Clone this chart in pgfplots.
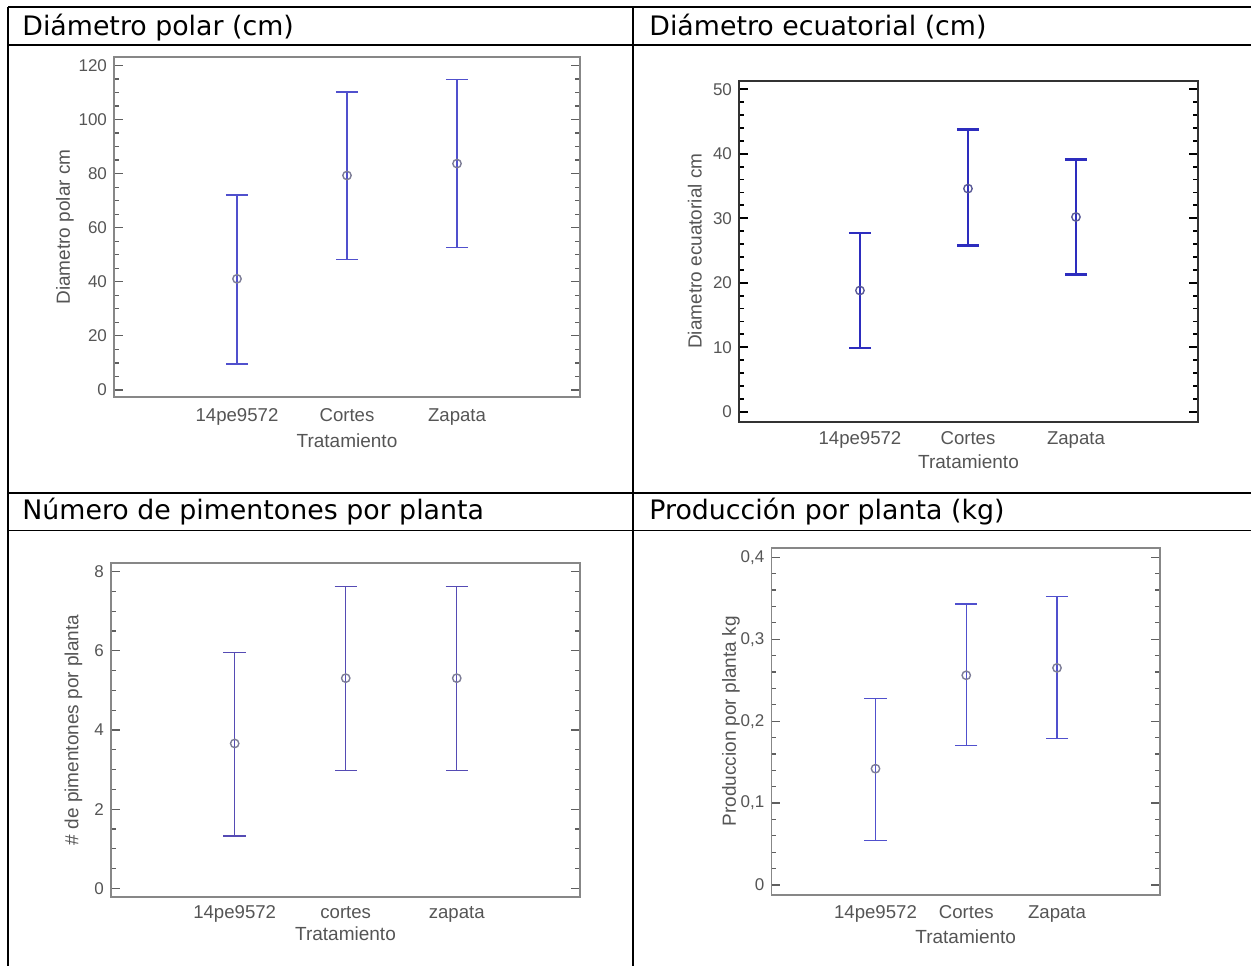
\documentclass[border=0pt]{standalone}
\usepackage{pgfplots}
\pgfplotsset{compat=1.18}
\usepackage{pgfplotstable}
\usepackage{fontspec}
\setmainfont{DejaVu Sans}
\newfontfamily\arial{Liberation Sans}
\definecolor{txt}{RGB}{85,85,85}
\definecolor{frm}{RGB}{135,135,135}
\definecolor{frmdk}{RGB}{50,50,50}
\definecolor{tk}{RGB}{95,95,95}
\definecolor{eb}{RGB}{80,80,205}
\definecolor{ebdk}{RGB}{45,45,190}
\definecolor{ebp}{RGB}{85,75,180}
\definecolor{mk}{RGB}{125,125,150}
\definecolor{mkdk}{RGB}{90,90,150}

\pgfplotstableread{
x y hi lo
1 41.1 72.1 9.6
2 79.3 110.2 48.3
3 83.7 114.8 52.8
}\polar
\pgfplotstableread{
x y hi lo
1 18.8 27.7 9.9
2 34.6 43.8 25.8
3 30.2 39.1 21.3
}\ecuat
\pgfplotstableread{
x y hi lo
1 3.66 5.96 1.32
2 5.31 7.63 2.97
3 5.31 7.63 2.97
}\pimen
\pgfplotstableread{
x y hi lo
1 0.142 0.228 0.054
2 0.256 0.343 0.170
3 0.265 0.352 0.179
}\prod

\pgfplotsset{
  chart/.style={
    scale only axis, anchor=south west,
    xtick={1,2,3},
    xtick style={draw=none},
    tick align=inside,
    major tick length=4.5pt, minor tick length=2.5pt,
    ytick style={draw=tk, line width=0.6pt},
    /pgf/number format/assume math mode=true,
    yticklabel style={font=\arial\fontsize{8.5}{10}\selectfont, text=txt},
    xticklabel style={font=\arial\fontsize{9.3}{11}\selectfont, text=txt, anchor=center, text height=6.7pt, text depth=1.9pt},
    label style={font=\arial\fontsize{9.5}{11}\selectfont, text=txt},
    xlabel={Tratamiento},
    axis line style={draw=frm, line width=0.9pt},
  },
  ebars/.style n args={3}{
    draw=none, mark=o, mark size=2.1pt,
    mark options={draw=#3, line width=0.7pt},
    error bars/.cd, y dir=both, y explicit,
    error bar style={draw=#1, line width=#2},
    error mark options={draw=#1, line width=#2, mark size=5.6pt, rotate=90},
  },
}

\begin{document}
\begin{tikzpicture}
\path[use as bounding box] (0,0) rectangle (625.5pt,-483pt);

% table lines
\draw[line width=1pt] (4pt,-3.5pt) -- (625.5pt,-3.5pt);
\draw[line width=1pt] (4pt,-3.5pt) -- (4pt,-483pt);
\draw[line width=1pt] (316.5pt,-3.5pt) -- (316.5pt,-483pt);
\draw[line width=0.7pt] (4pt,-22.4pt) -- (625.5pt,-22.4pt);
\draw[line width=1pt] (4pt,-246.6pt) -- (625.5pt,-246.6pt);
\draw[line width=0.7pt] (4pt,-265.3pt) -- (625.5pt,-265.3pt);

% headers
\begin{scope}[every node/.style={anchor=base west, inner sep=0pt, font=\fontsize{13.4}{16}\selectfont}]
\node at (11pt,-17.75pt) {Diámetro polar (cm)};
\node at (324.5pt,-17.75pt) {Diámetro ecuatorial (cm)};
\node at (11pt,-259.75pt) {Número de pimentones por planta};
\node at (324.5pt,-259.75pt) {Producción por planta (kg)};
\end{scope}

% chart 1
\begin{axis}[chart, at={(57pt,-198.5pt)}, width=233pt, height=170pt,
  xmin=-0.118, xmax=4.118, ymin=-2.6, ymax=123.1,
  ytick={0,20,...,120}, minor y tick num=3,
  xticklabels={14pe9572,Cortes,Zapata},
  xticklabel style={yshift=-9.85pt},
  xlabel style={at={(axis description cs:0.5,0)}, anchor=center, yshift=-21.85pt},
  ylabel={Diametro polar cm},
  ylabel style={at={(axis description cs:-0.105,0.5)}, anchor=center}]
\addplot[ebars={eb}{0.65pt}{mk}] table[x=x, y=y, y error plus expr=\thisrow{hi}-\thisrow{y}, y error minus expr=\thisrow{y}-\thisrow{lo}] {\polar};
\end{axis}

% chart 2
\begin{axis}[chart, at={(369.5pt,-210.85pt)}, width=229.5pt, height=170.5pt,
  xmin=-0.12, xmax=4.13, ymin=-1.55, ymax=51.33,
  ytick={0,10,...,50}, minor y tick num=4,
  axis line style={draw=frmdk, line width=1.2pt},
  ytick style={draw=black, line width=0.9pt},
  xticklabels={14pe9572,Cortes,Zapata},
  xticklabel style={yshift=-9.15pt},
  xlabel style={at={(axis description cs:0.5,0)}, anchor=center, yshift=-20pt},
  ylabel={Diametro ecuatorial cm},
  ylabel style={at={(axis description cs:-0.096,0.5)}, anchor=center}]
\addplot[ebars={ebdk}{1.3pt}{mkdk}] table[x=x, y=y, y error plus expr=\thisrow{hi}-\thisrow{y}, y error minus expr=\thisrow{y}-\thisrow{lo}] {\ecuat};
\end{axis}

% chart 3
\begin{axis}[chart, at={(55.5pt,-448.35pt)}, width=234.5pt, height=166.7pt,
  xmin=-0.114, xmax=4.11, ymin=-0.212, ymax=8.212,
  ytick={0,2,...,8}, minor y tick num=3,
  xticklabels={14pe9572,cortes,zapata},
  xticklabel style={yshift=-8.3pt},
  xlabel style={at={(axis description cs:0.5,0)}, anchor=center, yshift=-18.7pt},
  ylabel={\# de pimentones por planta},
  ylabel style={at={(axis description cs:-0.08,0.5)}, anchor=center}]
\addplot[ebars={ebp}{0.7pt}{mk}] table[x=x, y=y, y error plus expr=\thisrow{hi}-\thisrow{y}, y error minus expr=\thisrow{y}-\thisrow{lo}] {\pimen};
\end{axis}

% chart 4
\begin{axis}[chart, at={(385.7pt,-447.5pt)}, width=194.3pt, height=173.65pt,
  xmin=-0.147, xmax=4.135, ymin=-0.0122, ymax=0.4117,
  ytick={0,0.1,...,0.4}, minor y tick num=4,
  yticklabel style={/pgf/number format/.cd, use comma, fixed, precision=1},
  xticklabels={14pe9572,Cortes,Zapata},
  xticklabel style={yshift=-9.15pt},
  xlabel style={at={(axis description cs:0.5,0)}, anchor=center, yshift=-20.8pt},
  ylabel={Produccion por planta kg},
  ylabel style={at={(axis description cs:-0.104,0.5)}, anchor=center}]
\addplot[ebars={eb}{0.65pt}{mk}] table[x=x, y=y, y error plus expr=\thisrow{hi}-\thisrow{y}, y error minus expr=\thisrow{y}-\thisrow{lo}] {\prod};
\end{axis}
\end{tikzpicture}
\end{document}
